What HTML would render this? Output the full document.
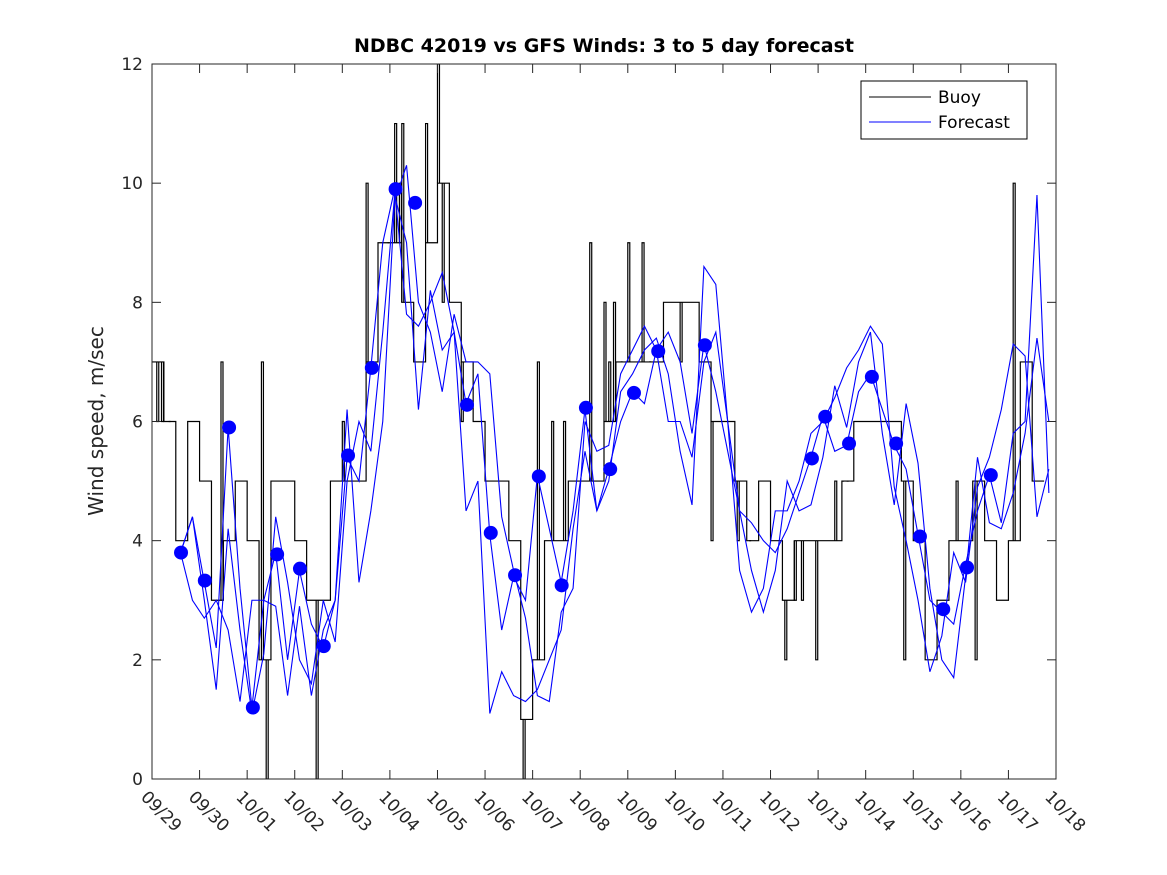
<!DOCTYPE html>
<html><head><meta charset="utf-8"><style>
body{margin:0;background:#fff;}
svg{display:block;font-family:"DejaVu Sans","Liberation Sans",sans-serif;}
</style></head><body>
<svg id="chart" width="1167" height="875" viewBox="0 0 1167 875" xmlns="http://www.w3.org/2000/svg">
<rect x="0" y="0" width="1167" height="875" fill="#fff"/>
<text x="604" y="52" text-anchor="middle" font-size="19" font-weight="bold">NDBC 42019 vs GFS Winds: 3 to 5 day forecast</text>
<text transform="translate(103,421) rotate(-90)" text-anchor="middle" font-size="20" fill="#262626">Wind speed, m/sec</text>
<defs><clipPath id="clip"><rect x="152" y="64" width="904" height="715"/></clipPath></defs>
<g id="plot" clip-path="url(#clip)"></g>
<g id="axes"></g>
<g>
<rect x="861" y="81" width="166" height="58" fill="#fff" stroke="#000" stroke-width="1"/>
<line x1="869" y1="97" x2="931" y2="97" stroke="#000"/>
<text x="938" y="103" font-size="17">Buoy</text>
<line x1="869" y1="122" x2="931" y2="122" stroke="#00f"/>
<text x="938" y="128" font-size="17">Forecast</text>
</g>
</svg>
<script>
const dayLabels=["09/29","09/30","10/01","10/02","10/03","10/04","10/05","10/06","10/07","10/08","10/09","10/10","10/11","10/12","10/13","10/14","10/15","10/16","10/17","10/18"];
const yTicks=[0,2,4,6,8,10,12];
const buoyStep=0.25;
const buoy=[7,6,4,6,5,3,4,5,4,2,5,5,4,3,3,5,5,5,7,9,9,8,7,9,10,8,7,6,5,5,4,1,2,4,4,5,5,5,6,7,7,7,7,8,8,8,7,6,6,5,4,5,4,3,4,4,4,4,5,6,6,6,6,5,4,2,3,4,4,5,4,3,4,7,5];
const spikeDays=[6.0,5.75,2.4,3.45,7.8,8.1,18.1,11.75,13.3,13.95,4.0,5.25,9.2,0.1,0.2,0.35,1.45,2.3,4.5,4.95,5.1,5.2,6.1,6.5,8.4,8.65,9.5,9.6,9.7,9.85,10.0,10.3,10.45,11.1,12.3,12.55,13.5,13.65,14.35,14.5,14.6,15.8,16.9,17.3];
const spikeVals=[12,11,0,0,0,7,10,4,2,2,6,11,9,6,6,6,7,7,10,9,11,10,8,6,6,6,8,7,8,7,9,9,7,7,4,4,3,3,5,5,5,2,5,2];
const fcStart=0.6, fcStep=0.25;
const fc1=[3.8,4.4,3.3,2.2,5.9,3.2,1.2,3.0,3.8,2.0,3.5,2.6,2.2,3.0,5.4,5.0,6.9,9.0,9.9,7.8,7.6,8.0,8.5,7.5,6.3,6.8,4.1,2.5,3.4,3.0,5.1,4.2,3.3,4.5,6.2,4.5,5.2,6.0,6.5,6.3,7.2,7.5,7.0,5.8,7.3,6.5,5.5,4.5,4.3,4.0,3.8,4.2,4.8,5.4,6.1,5.5,5.6,6.5,6.8,6.2,5.6,5.2,4.1,3.0,2.8,2.6,3.6,4.5,5.1,4.3,5.8,6.0,9.8,4.8];
const fc2=[3.8,4.4,3.0,1.5,4.2,2.5,1.1,2.1,4.4,3.3,2.0,1.6,3.0,2.3,5.0,6.0,5.5,7.5,9.8,9.0,6.2,8.2,7.2,7.5,4.5,5.0,1.1,1.8,1.4,1.3,1.5,2.0,2.5,4.2,5.5,4.5,5.0,6.5,6.8,7.2,7.4,6.8,5.5,4.6,8.6,8.3,6.0,4.5,3.5,2.8,3.5,5.0,4.5,4.6,5.4,6.6,5.9,7.0,7.5,5.8,4.6,6.3,5.3,3.2,2.0,1.7,3.4,5.4,4.3,4.2,4.8,5.8,7.4,6.0];
const fc3=[3.8,3.0,2.7,3.0,2.5,1.3,3.0,3.0,2.9,1.4,2.9,1.4,2.5,3.0,6.2,3.3,4.5,6.0,9.7,10.3,8.0,7.5,6.5,7.8,7.0,7.0,6.8,4.4,3.5,2.7,1.4,1.3,2.8,3.2,6.0,5.5,5.6,6.8,7.2,7.6,7.2,6.0,6.0,5.4,7.0,7.5,6.0,3.5,2.8,3.2,4.5,4.5,5.0,5.8,6.0,6.4,6.9,7.2,7.6,7.3,4.9,4.0,3.0,1.8,2.4,3.8,3.3,4.9,5.4,6.2,7.3,7.1,4.4,5.2];
const dotDays=[0.61,1.11,1.62,2.12,2.63,3.11,3.61,4.12,4.62,5.12,5.53,6.62,7.12,7.63,8.13,8.61,9.12,9.63,10.13,10.64,11.62,13.87,14.15,14.65,15.13,15.64,16.14,16.63,17.13,17.63];
const dotVals=[3.8,3.33,5.9,1.2,3.77,3.53,2.23,5.43,6.9,9.9,9.67,6.28,4.13,3.42,5.08,3.25,6.23,5.2,6.48,7.18,7.28,5.38,6.08,5.63,6.75,5.63,4.07,2.85,3.55,5.1];

const X0=152,X1=1056,Y0=779,Y1=64;
const xs=d=>X0+(X1-X0)*d/19;
const ys=v=>Y0-(Y0-Y1)*v/12;
const NS="http://www.w3.org/2000/svg";
const plot=document.getElementById('plot'), axes=document.getElementById('axes');
function mk(tag,attrs,parent){const e=document.createElementNS(NS,tag);for(const k in attrs)e.setAttribute(k,attrs[k]);parent.appendChild(e);return e;}

let d="";
buoy.forEach((v,i)=>{const xa=xs(i*buoyStep),xb=xs((i+1)*buoyStep);d+=(i?"L":"M")+xa+","+ys(v)+"L"+xb+","+ys(v);});
const bl=mk('path',{d:d,fill:'none',stroke:'#000','stroke-width':1.2},plot);


spikeDays.forEach((sd,i)=>{const base=buoy[Math.min(buoy.length-1,Math.floor(sd/buoyStep))];
 const s=mk('path',{d:"M"+xs(sd)+","+ys(base)+"L"+xs(sd)+","+ys(spikeVals[i])+"L"+(xs(sd)+2)+","+ys(spikeVals[i])+"L"+(xs(sd)+2)+","+ys(base),fill:'none',stroke:'#000','stroke-width':1.2},plot);
 
 
});
[fc1,fc2,fc3].forEach((arr,j)=>{
 const p=mk('polyline',{points:arr.map((v,i)=>xs(fcStart+i*fcStep)+","+ys(v)).join(" "),fill:'none',stroke:'#00f','stroke-width':1.1},plot);
 
 
});
dotDays.forEach((dd,i)=>{
 const c=mk('circle',{cx:xs(dd),cy:ys(dotVals[i]),r:7,fill:'#00f'},plot);
 
 
});
const box=mk('rect',{x:X0,y:Y1,width:X1-X0,height:Y0-Y1,fill:'none',stroke:'#262626','stroke-width':1},axes);


dayLabels.forEach((lab,i)=>{
 const x=xs(i);
 mk('line',{x1:x,y1:Y0,x2:x,y2:Y0-9,stroke:'#262626'},axes);
 mk('line',{x1:x,y1:Y1,x2:x,y2:Y1+9,stroke:'#262626'},axes);
 const t=mk('text',{transform:"translate("+(x-12)+","+(Y0+19)+") rotate(45)","font-size":17,fill:'#262626'},axes);
 t.textContent=lab;
 
 
});
yTicks.forEach(v=>{
 const y=ys(v);
 mk('line',{x1:X0,y1:y,x2:X0+9,y2:y,stroke:'#262626'},axes);
 mk('line',{x1:X1,y1:y,x2:X1-9,y2:y,stroke:'#262626'},axes);
 const t=mk('text',{x:X0-9,y:y+6,"text-anchor":"end","font-size":17,fill:'#262626'},axes);
 t.textContent=v;
 
 
});
</script>
</body></html>
